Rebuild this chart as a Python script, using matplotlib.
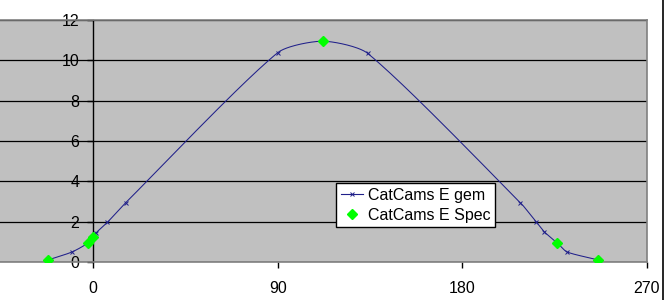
import numpy as np
import matplotlib
matplotlib.use("Agg")
import matplotlib.pyplot as plt
from matplotlib.lines import Line2D

plt.rcParams['font.family'] = ['Liberation Sans', 'DejaVu Sans']

# Data
gem_x = [-22, -10.2, -2.3, 1.5, 7, 15.9, 90, 112, 133.8, 208.3, 216, 220, 226.3, 231, 246.3]
gem_y = [0.1, 0.5, 0.96, 1.45, 1.97, 2.94, 10.38, 10.95, 10.35, 2.94, 1.98, 1.49, 0.94, 0.5, 0.1]
spec_x = [-22, -2.3, -0.1, 112, 226.3, 246.3]
spec_y = [0.1, 0.96, 1.22, 10.95, 0.94, 0.1]
x_ticks = [0, 90, 180, 270]
y_ticks = [0, 2, 4, 6, 8, 10, 12]
labels = ["CatCams E gem", "CatCams E Spec"]


def smooth(xs, ys, n=40, tension=0.7):
    # chord-length Hermite smoothing for rendering (like Excel's smoothed line)
    sxs, sys_ = 2.05, 20.17
    P = np.column_stack([np.array(xs) * sxs, np.array(ys) * sys_]).astype(float)
    d = np.linalg.norm(np.diff(P, axis=0), axis=1)
    t = np.concatenate([[0], np.cumsum(d)])
    m = np.zeros_like(P)
    m[0] = (P[1] - P[0]) / (t[1] - t[0])
    m[-1] = (P[-1] - P[-2]) / (t[-1] - t[-2])
    for i in range(1, len(P) - 1):
        m[i] = tension * (P[i + 1] - P[i - 1]) / (t[i + 1] - t[i - 1])
    out = []
    for i in range(len(P) - 1):
        h = t[i + 1] - t[i]
        s = np.linspace(0, 1, n, endpoint=False)[:, None]
        h00 = 2 * s ** 3 - 3 * s ** 2 + 1
        h10 = s ** 3 - 2 * s ** 2 + s
        h01 = -2 * s ** 3 + 3 * s ** 2
        h11 = s ** 3 - s ** 2
        out.append(h00 * P[i] + h10 * h * m[i] + h01 * P[i + 1] + h11 * h * m[i + 1])
    out.append(P[-1][None, :])
    c = np.vstack(out)
    return c[:, 0] / sxs, c[:, 1] / sys_


W, H = 666, 300
fig = plt.figure(figsize=(W / 100, H / 100), dpi=100)
ax = fig.add_axes([0, (H - 262) / H, 647 / W, (262 - 20) / H])
ax.set_facecolor('#C0C0C0')

line_col = '#20208a'
sx, sy = smooth(gem_x, gem_y)
ax.plot(sx, sy, color=line_col, lw=0.75, zorder=3)
ax.plot(gem_x, gem_y, linestyle='none', marker='x', color=line_col, ms=3.5, mew=0.7, zorder=4)
ax.plot(spec_x, spec_y, linestyle='none', marker='D', color='#00FF00', ms=5.5, mec='#00FF00', zorder=5)

ax.set_xlim(-93 / (184.5 / 90), 270)
ax.set_ylim(0, 12)
ax.set_xticks(x_ticks)
ax.set_yticks(y_ticks)
ax.yaxis.grid(True, color='black', lw=0.9)
ax.set_axisbelow(True)

for s in ['top', 'right', 'bottom']:
    ax.spines[s].set_color('#808080')
    ax.spines[s].set_linewidth(1.2)
ax.spines['left'].set_position(('data', 0))
ax.spines['left'].set_color('black')
ax.spines['left'].set_linewidth(1)

ax.tick_params(axis='y', direction='out', length=4, width=1, pad=6, labelsize=11.5, color='black')
ax.tick_params(axis='x', direction='out', length=4, width=1, pad=10, labelsize=11.5, color='black')
ax.set_yticklabels([str(v) for v in y_ticks])
ax.set_xticklabels([str(v) for v in x_ticks])

handles = [Line2D([], [], color=line_col, lw=0.8, marker='x', ms=3.5, mew=0.7),
           Line2D([], [], linestyle='none', marker='D', color='#00FF00', ms=5.5)]
leg = fig.legend(handles, labels, loc='upper left',
                 bbox_to_anchor=(336 / W, 1 - 183 / H), fontsize=11.5,
                 frameon=True, fancybox=False, borderpad=0.3, handlelength=1.4,
                 handletextpad=0.3, labelspacing=0.3, borderaxespad=0)
leg.get_frame().set_edgecolor('black')
leg.get_frame().set_linewidth(1)
leg.get_frame().set_facecolor('white')
leg.get_frame().set_alpha(1)

fig.add_artist(Line2D([663 / W, 663 / W], [0, 1], color='black', lw=1.2, transform=fig.transFigure))

fig.savefig('out.png', dpi=100)
